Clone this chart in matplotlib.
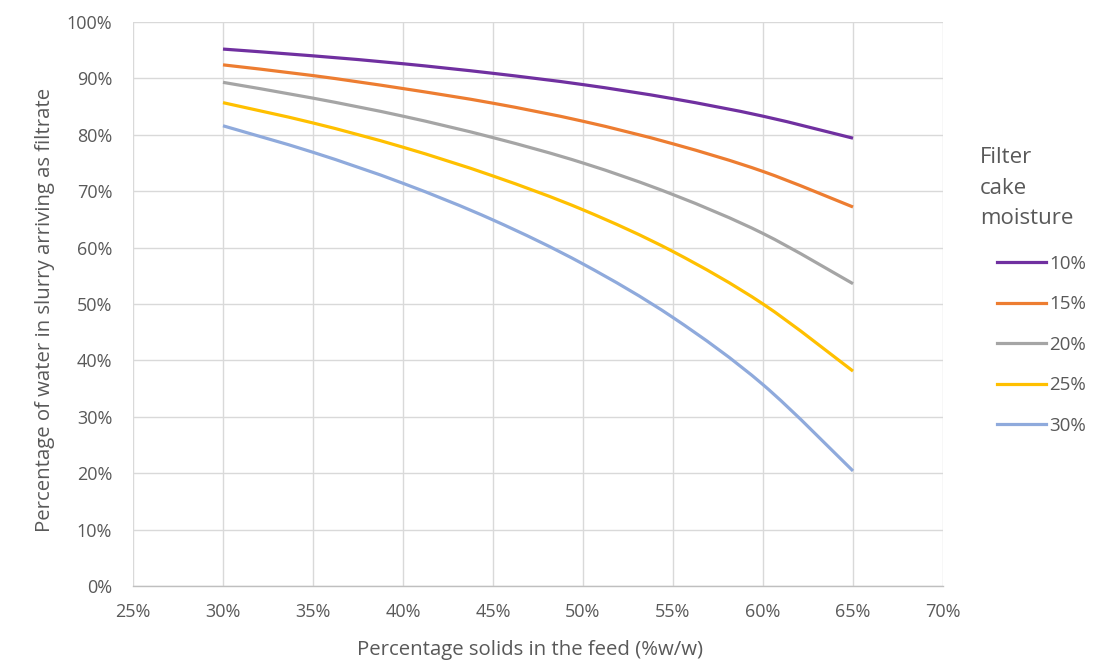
import matplotlib
matplotlib.use('Agg')
import matplotlib.pyplot as plt
import numpy as np
from matplotlib.path import Path
from matplotlib.patches import PathPatch
from matplotlib.lines import Line2D
from matplotlib.ticker import FuncFormatter

# Data
solids = [30, 35, 40, 45, 50, 55, 60, 65]
moisture_labels = ['10%', '15%', '20%', '25%', '30%']
water_10 = [95.2, 94.0, 92.6, 90.9, 88.9, 86.4, 83.3, 79.4]
water_15 = [92.4, 90.5, 88.2, 85.6, 82.4, 78.4, 73.5, 67.2]
water_20 = [89.3, 86.5, 83.3, 79.5, 75.0, 69.4, 62.5, 53.6]
water_25 = [85.7, 82.1, 77.8, 72.7, 66.7, 59.3, 50.0, 38.1]
water_30 = [81.6, 76.9, 71.4, 64.9, 57.1, 47.6, 35.7, 20.4]
series = [water_10, water_15, water_20, water_25, water_30]
colors = ['#7030A0', '#ED7D31', '#A5A5A5', '#FFC000', '#8FAADC']

plt.rcParams['font.family'] = ['Open Sans', 'DejaVu Sans']
text_color = '#595959'
W, H = 1103, 671


def smooth_path(xs, ys):
    """Excel-style smoothed line as cubic Bezier segments"""
    pts = np.column_stack([xs, ys]).astype(float)
    n = len(pts)
    verts = [pts[0]]
    codes = [Path.MOVETO]
    for i in range(n - 1):
        p0 = pts[i - 1] if i > 0 else pts[i]
        p1 = pts[i]
        p2 = pts[i + 1]
        p3 = pts[i + 2] if i + 2 < n else pts[i + 1]
        c1 = p1 + (p2 - p0) / 6.0
        c2 = p2 - (p3 - p1) / 6.0
        verts += [c1, c2, p2]
        codes += [Path.CURVE4] * 3
    return Path(verts, codes)


fig = plt.figure(figsize=(W / 100, H / 100), dpi=100)
ax = fig.add_axes([133 / W, 1 - 586 / H, (943 - 133) / W, (586 - 22) / H])

for vals, col in zip(series, colors):
    patch = PathPatch(smooth_path(solids, vals), facecolor='none', edgecolor=col,
                      linewidth=2.3, capstyle='butt', zorder=3)
    ax.add_patch(patch)

ax.set_xlim(25, 70)
ax.set_ylim(0, 100)
ax.set_xticks(np.arange(25, 71, 5))
ax.set_yticks(np.arange(0, 101, 10))
pct = FuncFormatter(lambda v, p: f'{v:.0f}%')
ax.xaxis.set_major_formatter(pct)
ax.yaxis.set_major_formatter(pct)
ax.grid(True, color='#D9D9D9', linewidth=1.0)
ax.set_axisbelow(True)
for side in ['top', 'right', 'left']:
    ax.spines[side].set_visible(False)
ax.spines['bottom'].set_color('#BFBFBF')
ax.spines['bottom'].set_linewidth(1.0)
ax.tick_params(axis='both', length=0, labelsize=13, colors=text_color)
ax.tick_params(axis='x', pad=12)
ax.tick_params(axis='y', pad=15)

ax.set_xlabel('Percentage solids in the feed (%w/w)', fontsize=14.7, color=text_color,
              va='center', ha='center')
ax.xaxis.set_label_coords((530 - 133) / 810, (586 - 650) / 564)
ax.set_ylabel('Percentage of water in slurry arriving as filtrate', fontsize=14.7,
              color=text_color, va='center', ha='center')
ax.yaxis.set_label_coords((45 - 133) / 810, (586 - 310) / 564)

# legend title drawn on its own, entries below it
fig.text(980 / W, 1 - 147 / H, 'Filter\ncake\nmoisture', fontsize=16, color=text_color,
         ha='left', va='top', linespacing=1.6)
handles = [Line2D([], [], color=c, linewidth=2.3) for c in colors]
leg = fig.legend(handles, moisture_labels, loc='upper left',
                 bbox_to_anchor=(997 / W, 1 - 255 / H), borderaxespad=0, borderpad=0,
                 frameon=False, fontsize=13.5,
                 labelspacing=1.2, handlelength=2.6, handletextpad=0.2,
                 labelcolor=text_color)

fig.savefig('out.png', dpi=100)
